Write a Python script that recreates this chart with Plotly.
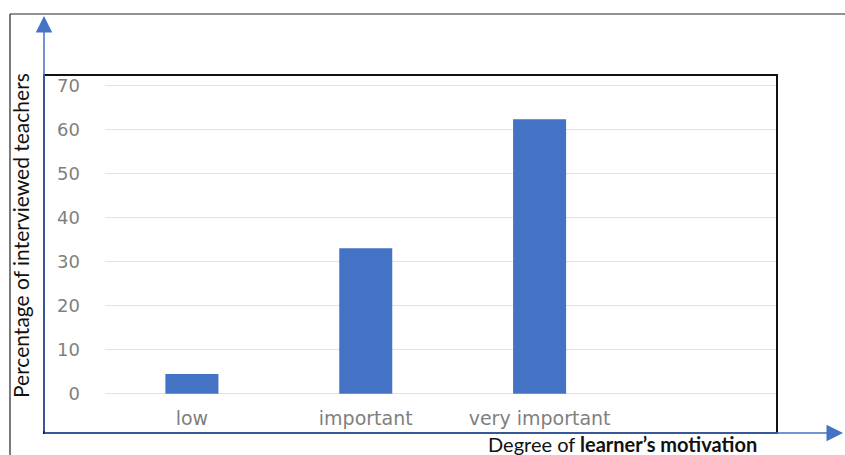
import plotly.graph_objects as go

# Survey results: share of teachers by perceived degree of learner's motivation
categories = ["low", "important", "very important"]
percentages = [4.5, 33.0, 62.3]
y_ticks = [0, 10, 20, 30, 40, 50, 60, 70]

W, H = 845, 455
PLOT_L, PLOT_R = 105, 776
PLOT_T, PLOT_B = 83, 396

BLUE = "#4472C4"


def px(x):
    return (x - PLOT_L) / (PLOT_R - PLOT_L)


def py(y):
    return (PLOT_B - y) / (PLOT_B - PLOT_T)


fig = go.Figure(
    go.Bar(
        x=categories,
        y=percentages,
        marker=dict(color=BLUE, line=dict(width=0)),
        hoverinfo="skip",
    )
)

shapes = [
    # outer frame (top and left edges)
    dict(type="line", xref="paper", yref="paper",
         x0=px(10), x1=px(845), y0=py(14), y1=py(14),
         line=dict(color="#6e6e6e", width=1.5)),
    dict(type="line", xref="paper", yref="paper",
         x0=px(10), x1=px(10), y0=py(14), y1=py(455),
         line=dict(color="#222222", width=1.2)),
    # chart box
    dict(type="rect", xref="paper", yref="paper",
         x0=px(44), x1=px(777), y0=py(75), y1=py(433),
         line=dict(color="#111111", width=2)),
]

annotations = [
    # vertical blue axis arrow
    dict(xref="paper", yref="paper", x=px(44), y=py(16),
         ax=0, ay=433 - 16, axref="pixel", ayref="pixel",
         showarrow=True, arrowhead=2, arrowsize=2.2, arrowwidth=1.5,
         arrowcolor=BLUE, text=""),
    # horizontal blue axis arrow
    dict(xref="paper", yref="paper", x=px(843), y=py(433),
         ax=-(843 - 43), ay=0, axref="pixel", ayref="pixel",
         showarrow=True, arrowhead=2, arrowsize=2.2, arrowwidth=1.5,
         arrowcolor=BLUE, text=""),
    # axis titles
    dict(xref="paper", yref="paper", x=px(20), y=py(236),
         text="Percentage of interviewed teachers", textangle=-90,
         showarrow=False, font=dict(family="Lato", size=21, color="#111111"),
         xanchor="center", yanchor="middle"),
    dict(xref="paper", yref="paper", x=px(622), y=py(444),
         text="Degree of <b>learner’s motivation</b>",
         showarrow=False, font=dict(family="Lato", size=20, color="#111111"),
         xanchor="center", yanchor="middle"),
]

fig.update_layout(
    width=W, height=H,
    margin=dict(l=PLOT_L, r=W - PLOT_R, t=PLOT_T, b=H - PLOT_B, pad=0),
    paper_bgcolor="white", plot_bgcolor="white",
    showlegend=False,
    bargap=0.695,
    shapes=shapes,
    annotations=annotations,
    xaxis=dict(
        type="category", range=[-0.5, 3.36],
        showgrid=False, zeroline=False, showline=False,
        ticks="outside", ticklen=5, tickcolor="rgba(0,0,0,0)",
        tickfont=dict(family="DejaVu Sans", size=19, color="#7f7f7f"),
    ),
    yaxis=dict(
        range=[-0.5, 70.5], tickvals=y_ticks,
        showgrid=True, gridcolor="#e3e3e3", gridwidth=1,
        zeroline=False, showline=False,
        ticks="", ticklabelstandoff=24,
        tickfont=dict(family="DejaVu Sans", size=18, color="#7f7f7f"),
    ),
)

fig.write_html("out.html")
